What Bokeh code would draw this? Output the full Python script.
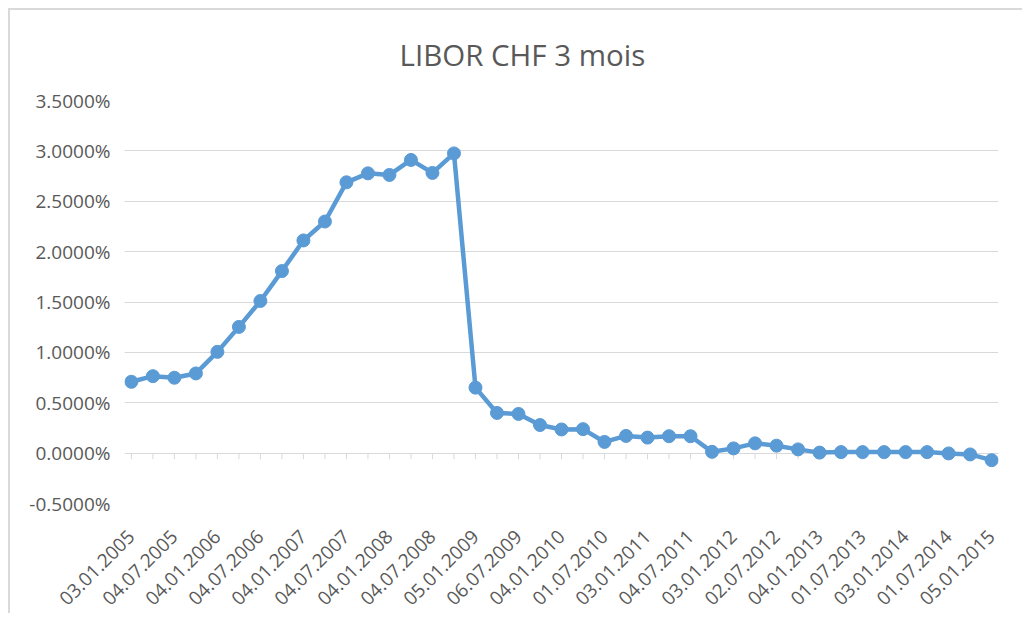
import math
from bokeh.plotting import figure
from bokeh.models import Range1d, FixedTicker, PrintfTickFormatter, ColumnDataSource
from bokeh.embed import file_html
from bokeh.resources import INLINE

chart_title = "LIBOR CHF 3 mois"

date_labels = ["03.01.2005", "04.07.2005", "04.01.2006", "04.07.2006", "04.01.2007",
               "04.07.2007", "04.01.2008", "04.07.2008", "05.01.2009", "06.07.2009",
               "04.01.2010", "01.07.2010", "03.01.2011", "04.07.2011", "03.01.2012",
               "02.07.2012", "04.01.2013", "01.07.2013", "03.01.2014", "01.07.2014",
               "05.01.2015"]

# quarterly 3M CHF LIBOR, in percent
rates = [0.708, 0.764, 0.748, 0.791, 1.005, 1.253, 1.510, 1.807, 2.111, 2.299,
         2.688, 2.777, 2.761, 2.910, 2.781, 2.975, 0.650, 0.399, 0.389, 0.279,
         0.235, 0.238, 0.111, 0.171, 0.154, 0.168, 0.168, 0.013, 0.047, 0.097,
         0.074, 0.037, 0.005, 0.010, 0.010, 0.010, 0.010, 0.010, -0.003, -0.013,
         -0.070]

y_ticks = [-0.5, 0.0, 0.5, 1.0, 1.5, 2.0, 2.5, 3.0, 3.5]

idx = list(range(len(rates)))
src = ColumnDataSource(dict(x=idx, y=rates))

p = figure(width=1014, height=605, output_backend="svg", toolbar_location=None,
           x_range=Range1d(-0.32, len(rates) - 1 + 0.32), y_range=Range1d(-0.5, 3.5),
           min_border_left=114, min_border_right=26, min_border_top=89,
           min_border_bottom=112, title=chart_title)

p.margin = (8, 0, 0, 8)
p.styles = {"border-top": "2px solid #d9d9d9", "border-left": "2px solid #d9d9d9"}

p.title.text_font = "Open Sans"
p.title.text_font_size = "29.5px"
p.title.text_font_style = "normal"
p.title.text_color = "#595959"
p.title.align = "left"
p.title.vertical_align = "top"
p.title.offset = 275
p.title.standoff = 47

p.outline_line_color = None
p.background_fill_color = "white"
p.border_fill_color = "white"

# y axis
p.yaxis.ticker = FixedTicker(ticks=y_ticks)
p.yaxis.formatter = PrintfTickFormatter(format="%.4f%%")
p.yaxis.axis_line_color = None
p.yaxis.major_tick_line_color = None
p.yaxis.major_tick_out = 0
p.yaxis.major_tick_in = 0
p.yaxis.minor_tick_line_color = None
p.yaxis.major_label_standoff = 14
p.yaxis.major_label_text_font = "Open Sans"
p.yaxis.major_label_text_font_size = "19px"
p.yaxis.major_label_text_color = "#595959"

# x axis
p.xaxis.ticker = FixedTicker(ticks=[2 * i for i in range(len(date_labels))])
p.xaxis.major_label_overrides = {2 * i: lab for i, lab in enumerate(date_labels)}
p.xaxis.major_label_orientation = math.pi / 4
p.xaxis.axis_line_color = None
p.xaxis.major_tick_line_color = None
p.xaxis.major_tick_out = 0
p.xaxis.major_tick_in = 0
p.xaxis.minor_tick_line_color = None
p.xaxis.major_label_standoff = 30
p.xaxis.major_label_text_font = "Open Sans"
p.xaxis.major_label_text_font_size = "19px"
p.xaxis.major_label_text_color = "#595959"

p.xgrid.visible = False
p.ygrid.ticker = FixedTicker(ticks=y_ticks)
p.ygrid.grid_line_color = "#d9d9d9"
p.ygrid.grid_line_width = 1

# category tick marks on the zero line
p.segment(x0=idx, y0=[0.0] * len(idx), x1=idx, y1=[-0.06] * len(idx),
          line_color="#d9d9d9", line_width=1)

p.line("x", "y", source=src, line_color="#5B9BD5", line_width=4.5)
p.scatter("x", "y", source=src, marker="circle", size=13,
          fill_color="#5B9BD5", line_color="#5B9BD5")

open("out.html", "w").write(file_html(p, INLINE))
